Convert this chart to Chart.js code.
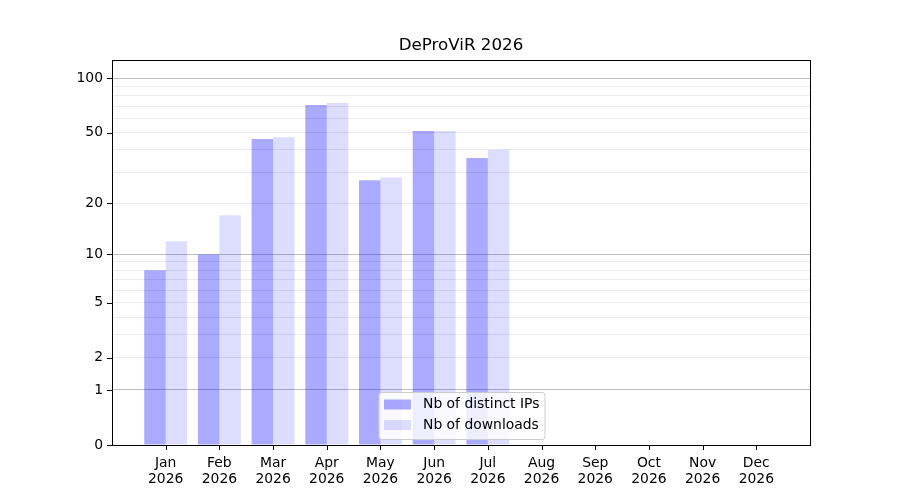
<!DOCTYPE html>
<html>
<head>
<meta charset="utf-8">
<script src="https://cdn.jsdelivr.net/npm/chart.js@4.4.1/dist/chart.umd.min.js"></script>
<style>
  html, body { margin: 0; padding: 0; background: #ffffff; }
  #wrap { width: 900px; height: 500px; }
</style>
</head>
<body>
<div id="wrap"><canvas id="chart" width="900" height="500"></canvas></div>
<script>
// data
const months = ["Jan", "Feb", "Mar", "Apr", "May", "Jun", "Jul", "Aug", "Sep", "Oct", "Nov", "Dec"];
const year = "2026";
const distinctIPs = [8, 10, 46, 71, 27, 51, 36];
const downloads = [12, 17, 47, 73, 28, 51, 40];

// y axis: log10(v + 1) scale
const gridValues = [0, 1, 2, 3, 4, 5, 6, 7, 8, 9, 10, 20, 30, 40, 50, 60, 70, 80, 90, 100];
const tickLabels = [0, 1, 2, 5, 10, 20, 50, 100];
const majorLines = [1, 10, 100];
const yTop = 126;

const FONT = "'DejaVu Sans', sans-serif";

function tf(v) { return Math.log10(v + 1); }

function toPoints(arr) {
    return arr.map((v, i) => ({ x: i, y: tf(v) }));
}

const framePlugin = {
    id: "frame",
    afterDraw(chart) {
        const ctx = chart.ctx;
        const a = chart.chartArea;
        const xs = chart.scales.x;
        const ys = chart.scales.y;
        ctx.save();

        // axes frame
        ctx.strokeStyle = "#000000";
        ctx.lineWidth = 1;
        ctx.strokeRect(Math.round(a.left) + 0.5, Math.round(a.top) + 0.5,
            Math.round(a.right - a.left), Math.round(a.bottom - a.top));

        // tick marks
        ctx.beginPath();
        months.forEach((m, i) => {
            const px = Math.round(xs.getPixelForValue(i)) + 0.5;
            ctx.moveTo(px, a.bottom);
            ctx.lineTo(px, a.bottom + 5);
        });
        tickLabels.forEach(t => {
            const py = Math.round(ys.getPixelForValue(tf(t))) + 0.5;
            ctx.moveTo(a.left - 5, py);
            ctx.lineTo(a.left, py);
        });
        ctx.stroke();

        // title
        ctx.fillStyle = "#000000";
        ctx.font = "16.7px " + FONT;
        ctx.textAlign = "center";
        ctx.textBaseline = "middle";
        ctx.fillText("DeProViR 2026", (a.left + a.right) / 2, 46);

        // legend (lower centre, inside the axes)
        const lx = 379, ly = 392.5, lw = 166, lh = 47;
        ctx.beginPath();
        ctx.roundRect(lx, ly, lw, lh, 3);
        ctx.fillStyle = "rgba(255,255,255,0.8)";
        ctx.fill();
        ctx.strokeStyle = "#cccccc";
        ctx.stroke();

        ctx.font = "13.9px " + FONT;
        ctx.textAlign = "left";
        chart.data.datasets.forEach((ds, i) => {
            const ry = ly + 7 + i * 20.5;
            ctx.fillStyle = ds.backgroundColor;
            ctx.fillRect(lx + 5, ry, 27, 10);
            ctx.fillStyle = "#000000";
            ctx.fillText(ds.label, lx + 44, ry + 5);
        });

        ctx.restore();
    }
};

new Chart(document.getElementById("chart"), {
    type: "bar",
    data: {
        datasets: [{
            label: "Nb of distinct IPs",
            data: toPoints(distinctIPs),
            backgroundColor: "rgba(0,0,255,0.333)",
            borderWidth: 0
        }, {
            label: "Nb of downloads",
            data: toPoints(downloads),
            backgroundColor: "rgba(0,0,255,0.133)",
            borderWidth: 0
        }]
    },
    options: {
        responsive: false,
        devicePixelRatio: 1,
        animation: false,
        categoryPercentage: 0.8,
        barPercentage: 1.0,
        layout: { padding: { left: 0, right: 90, top: 60, bottom: 0 } },
        plugins: {
            legend: { display: false },
            title: { display: false },
            tooltip: { enabled: false }
        },
        scales: {
            x: {
                type: "linear",
                offset: false,
                min: -1,
                max: 12,
                afterBuildTicks(scale) {
                    scale.ticks = months.map((m, i) => ({ value: i }));
                },
                afterFit(scale) { scale.height = 55; },
                grid: { display: false, drawTicks: false, offset: false },
                border: { display: false },
                ticks: {
                    autoSkip: false,
                    maxRotation: 0,
                    padding: 11,
                    color: "#000000",
                    font: { family: FONT, size: 13.9, lineHeight: 1.1 },
                    callback: (v) => [months[v], year]
                }
            },
            y: {
                type: "linear",
                min: 0,
                max: tf(yTop),
                afterBuildTicks(scale) {
                    scale.ticks = gridValues.map(g => ({ value: tf(g) }));
                },
                afterFit(scale) { scale.width = 112; },
                grid: {
                    drawTicks: false,
                    lineWidth: 1,
                    color: (c) => {
                        const g = gridValues[c.index];
                        if (g === 0) return "rgba(0,0,0,0)";
                        return majorLines.includes(g) ? "#bdbdbd" : "#ebebeb";
                    }
                },
                border: { display: false },
                ticks: {
                    autoSkip: false,
                    padding: 9,
                    color: "#000000",
                    font: { family: FONT, size: 13.9 },
                    callback: (v, i) => {
                        const g = gridValues[i];
                        return tickLabels.includes(g) ? String(g) : "";
                    }
                }
            }
        }
    },
    plugins: [framePlugin]
});
</script>
</body>
</html>
